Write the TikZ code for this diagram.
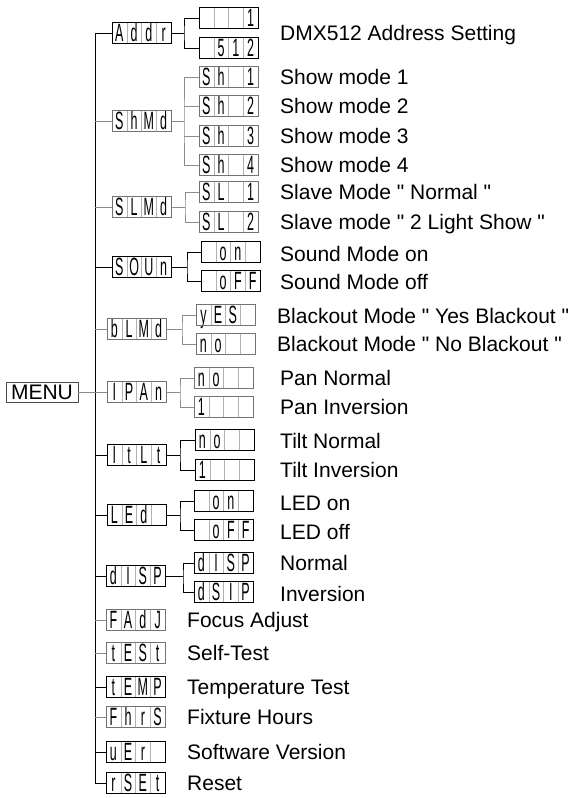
\documentclass[tikz,border=0pt]{standalone}
\usepackage{fontspec}
\setmainfont{Liberation Sans}[Ligatures=TeXOff]
\newfontfamily\segfont[FakeStretch=0.5]{Liberation Sans}
\usetikzlibrary{calc}

\tikzset{
  wire/.style={black, line width=0.9pt},
  wirelt/.style={black!45, line width=0.7pt},
  segframe/.style={minimum width=59, minimum height=21, inner sep=0pt},
  segcell/.style={inner sep=0pt, font=\segfont\fontsize{25}{25}\selectfont, text height=17.5pt, text depth=0pt},
  segdiv/.style={black!30, line width=0.5pt},
  lbl/.style={anchor=west, inner sep=0pt, font=\fontsize{21}{24}\selectfont, text height=15pt, text depth=0pt},
  menubox/.style={draw=black!70, line width=0.7pt, minimum width=72, minimum height=20, inner sep=0pt, font=\fontsize{21}{24}\selectfont, text height=15pt, text depth=0pt}
}

% display with four cells: [frame colour]{name}{x}{y}{cells}
\newcommand{\segdisp}[5][black]{%
  \node[segframe, anchor=west] (#2) at (#3,#4) {};
  \foreach \ch [count=\i] in {#5}
    \node[segcell] at ($(#2.west)+(\i*14.75-7.375,0)$) {\ch};
  \foreach \k in {1,2,3}
    \draw[segdiv] ($(#2.north west)+(\k*14.75,0)$) -- ($(#2.south west)+(\k*14.75,0)$);
  \draw[draw=#1, line width=0.9pt] (#2.north west) rectangle (#2.south east);
}

\begin{document}
\begin{tikzpicture}[x=1pt,y=-1pt]
  \useasboundingbox (0,0) rectangle (579,798);
  \node[menubox] (menu) at (42,392) {MENU};
  \coordinate (spine) at (95,0);

  % Addr
  \segdisp{addr}{112}{33}{A,d,d,r}
  \segdisp{addr1}{199}{18}{{},{},{},1}
  \segdisp{addr2}{199}{48}{{},5,1,2}
  \coordinate (addrj) at (184,33);
  \draw[wire] (addr.east) -- (addrj);
  \draw[wire] (addr1.west) -| (addrj) |- (addr2.west);
  \node[lbl] (addrt) at (280,33) {DMX512 Address Setting};

  % ShMd
  \segdisp[black!55]{shmd}{112}{121}{S,h,M,d}
  \foreach \n/\y in {1/77,2/106,3/136,4/165} {
    \segdisp[black!55]{sh\n}{199}{\y}{S,h,{},\n}
    \node[lbl] (sht\n) at (280,\y) {Show mode \n};
  }
  \coordinate (shmdj) at (184,121);
  \draw[wirelt] (shmd.east) -- (shmdj);
  \draw[wirelt] (sh1.west) -| (shmdj) |- (sh4.west);
  \draw[wirelt] (sh2.west) -- (sh2.west -| shmdj);
  \draw[wirelt] (sh3.west) -- (sh3.west -| shmdj);

  % SLMd
  \segdisp[black!55]{slmd}{112}{207}{S,L,M,d}
  \segdisp[black!55]{sl1}{199}{192}{S,L,{},1}
  \segdisp[black!55]{sl2}{199}{222}{S,L,{},2}
  \coordinate (slmdj) at (185,207);
  \draw[wirelt] (slmd.east) -- (slmdj);
  \draw[wirelt] (sl1.west) -| (slmdj) |- (sl2.west);
  \node[lbl] (slt1) at (280,192) {Slave Mode " Normal "};
  \node[lbl] (slt2) at (280,222) {Slave mode " 2 Light Show "};

  % SOUn
  \segdisp{soun}{112}{267}{S,O,U,n}
  \segdisp{soun1}{201}{252}{{},o,n,{}}
  \segdisp{soun2}{201}{281}{{},o,F,F}
  \coordinate (sounj) at (187,267);
  \draw[wire] (soun.east) -- (sounj);
  \draw[wire] (soun1.west) -| (sounj) |- (soun2.west);
  \node[lbl] (sount1) at (280,254) {Sound Mode on};
  \node[lbl] (sount2) at (280,282) {Sound Mode off};

  % bLMd
  \segdisp[black!55]{blmd}{107}{329}{b,L,M,d}
  \segdisp[black!55]{blmd1}{196}{315}{y,E,S,{}}
  \segdisp[black!55]{blmd2}{196}{344}{n,o,{},{}}
  \coordinate (blmdj) at (182,329);
  \draw[wirelt] (blmd.east) -- (blmdj);
  \draw[wirelt] (blmd1.west) -| (blmdj) |- (blmd2.west);
  \node[lbl] (blmdt1) at (277,316) {Blackout Mode " Yes Blackout "};
  \node[lbl] (blmdt2) at (277,344) {Blackout Mode " No Blackout "};

  % IPAn
  \segdisp[black!55]{ipan}{107}{392}{I,P,A,n}
  \segdisp[black!55]{ipan1}{194}{378}{n,o,{},{}}
  \segdisp[black!55]{ipan2}{194}{407}{1,{},{},{}}
  \coordinate (ipanj) at (180,392);
  \draw[wirelt] (ipan.east) -- (ipanj);
  \draw[wirelt] (ipan1.west) -| (ipanj) |- (ipan2.west);
  \node[lbl] (ipant1) at (280,378) {Pan Normal};
  \node[lbl] (ipant2) at (280,407) {Pan Inversion};

  % ItLt
  \segdisp{itlt}{107}{455}{I,t,L,t}
  \segdisp{itlt1}{195}{440}{n,o,{},{}}
  \segdisp{itlt2}{195}{470}{1,{},{},{}}
  \coordinate (itltj) at (180,455);
  \draw[wire] (itlt.east) -- (itltj);
  \draw[wire] (itlt1.west) -| (itltj) |- (itlt2.west);
  \node[lbl] (itltt1) at (280,441) {Tilt Normal};
  \node[lbl] (itltt2) at (280,470) {Tilt Inversion};

  % LEd
  \segdisp{led}{107}{515}{L,E,d,{}}
  \segdisp{led1}{194}{501}{{},o,n,{}}
  \segdisp{led2}{194}{530}{{},o,F,F}
  \coordinate (ledj) at (180,515);
  \draw[wire] (led.east) -- (ledj);
  \draw[wire] (led1.west) -| (ledj) |- (led2.west);
  \node[lbl] (ledt1) at (280,503) {LED on};
  \node[lbl] (ledt2) at (280,532) {LED off};

  % dISP
  \segdisp{disp}{106}{576}{d,I,S,P}
  \segdisp{disp1}{194}{563}{d,I,S,P}
  \segdisp{disp2}{194}{592}{d,S,I,P}
  \coordinate (dispj) at (183,576);
  \draw[wire] (disp.east) -- (dispj);
  \draw[wire] (disp1.west) -| (dispj) |- (disp2.west);
  \node[lbl] (dispt1) at (280,563) {Normal};
  \node[lbl] (dispt2) at (280,594) {Inversion};

  % single items
  \segdisp[black!55]{fadj}{106}{620}{F,A,d,J}
  \segdisp[black!55]{test}{106}{653}{t,E,S,t}
  \segdisp{temp}{106}{687}{t,E,M,P}
  \segdisp[black!55]{fhrs}{106}{717}{F,h,r,S}
  \segdisp{uer}{106}{752}{u,E,r,{}}
  \segdisp{rset}{106}{783}{r,S,E,t}
  \node[lbl] (fadjt) at (187,620) {Focus Adjust};
  \node[lbl] (testt) at (187,653) {Self-Test};
  \node[lbl] (tempt) at (187,687) {Temperature Test};
  \node[lbl] (fhrst) at (187,717) {Fixture Hours};
  \node[lbl] (uert) at (187,752) {Software Version};
  \node[lbl] (rsett) at (187,783) {Reset};

  % spine
  \draw[wire] (addr.west) -- (addr.west -| spine) -- (rset.west -| spine) -- (rset.west);
  \foreach \m in {soun,itlt,led,disp,temp,uer}
    \draw[wire] (\m.west) -- (\m.west -| spine);
  \foreach \m in {shmd,slmd,blmd,fadj,test,fhrs}
    \draw[wirelt] (\m.west) -- (\m.west -| spine);
  \draw[wirelt] (menu.east) -- (ipan.west);
\end{tikzpicture}
\end{document}
